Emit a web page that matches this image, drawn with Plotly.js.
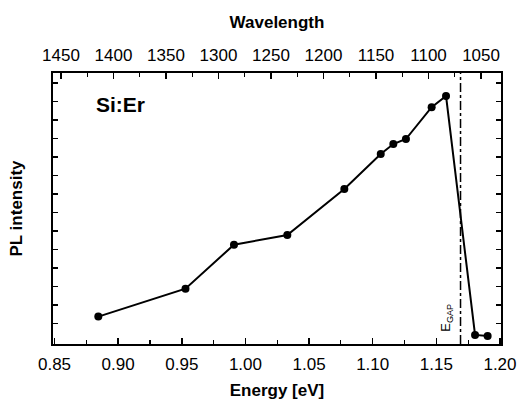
<!DOCTYPE html>
<html>
<head>
<meta charset="utf-8">
<script src="https://cdn.plot.ly/plotly-3.0.1.min.js"></script>
<style>html,body{margin:0;padding:0;background:#fff;}#chart{width:518px;height:400px;}</style>
</head>
<body>
<div id="chart"></div>
<script>
// Data
const energy = [0.8844, 0.9529, 0.9910, 1.0329, 1.0777, 1.1063, 1.1162, 1.1261, 1.1463, 1.1576, 1.1804, 1.1903];
const plIntensity = [0.36, 1.87, 4.25, 4.77, 7.26, 9.15, 9.69, 9.96, 11.68, 12.29, -0.63, -0.69];
const eGap = 1.169;
const energyTicks = [0.85, 0.90, 0.95, 1.00, 1.05, 1.10, 1.15, 1.20];
const energyTickText = ["0.85", "0.90", "0.95", "1.00", "1.05", "1.10", "1.15", "1.20"];
const wavelengthTicks = [1450, 1400, 1350, 1300, 1250, 1200, 1150, 1100, 1050];
const yTicks = [0,1,2,3,4,5,6,7,8,9,10,11,12,13];

const FONT = "Liberation Sans, Arial, Helvetica, sans-serif";

const traces = [
  {
    x: energy, y: plIntensity, type: 'scatter', mode: 'lines+markers',
    line: {color: '#000', width: 2},
    marker: {color: '#000', size: 8},
    showlegend: false, hoverinfo: 'skip'
  },
  {
    x: [1250], y: [0], xaxis: 'x2', yaxis: 'y', type: 'scatter', mode: 'markers',
    marker: {opacity: 0}, showlegend: false, hoverinfo: 'skip'
  }
];

const layout = {
  width: 518, height: 400,
  margin: {l: 53, r: 17, t: 73, b: 56},
  paper_bgcolor: '#fff', plot_bgcolor: '#fff',
  font: {family: FONT, color: '#000', size: 17},
  showlegend: false,
  xaxis: {
    range: [0.8488, 1.2008], tickvals: energyTicks, ticktext: energyTickText,
    ticks: 'inside', ticklen: 6, tickwidth: 1.5, tickcolor: '#000',
    minor: {dtick: 0.025, tick0: 0.85, ticks: 'inside', ticklen: 4, tickwidth: 1.2, tickcolor: '#000'},
    showline: true, linecolor: '#000', linewidth: 2, mirror: false,
    showgrid: false, zeroline: false,
    tickfont: {size: 17, family: FONT, color: '#000'},
    ticklabelstandoff: 4,
    title: {text: 'Energy [eV]', font: {size: 17, family: FONT, weight: 'bold', color: '#000'}, standoff: 11}
  },
  xaxis2: {
    overlaying: 'x', side: 'top', anchor: 'y',
    range: [1457.6, 1031], tickvals: wavelengthTicks,
    ticks: 'inside', ticklen: 6, tickwidth: 1.5, tickcolor: '#000',
    minor: {dtick: 25, tick0: 1050, ticks: 'inside', ticklen: 4, tickwidth: 1.2, tickcolor: '#000'},
    showline: true, linecolor: '#000', linewidth: 2,
    showgrid: false, zeroline: false,
    tickfont: {size: 17, family: FONT, color: '#000'},
    ticklabelposition: 'outside',
    ticklabelstandoff: 3,
    title: {text: 'Wavelength', font: {size: 17, family: FONT, weight: 'bold', color: '#000'}, standoff: 13}
  },
  yaxis: {
    range: [-1.12, 13.53], tickvals: yTicks, showticklabels: false,
    ticks: 'inside', ticklen: 5, tickwidth: 1.5, tickcolor: '#000',
    showline: true, linecolor: '#000', linewidth: 2, mirror: 'ticks',
    showgrid: false, zeroline: false,
    title: {text: 'PL intensity', font: {size: 17, family: FONT, weight: 'bold', color: '#000'}, standoff: 24}
  },
  shapes: [
    {type: 'line', xref: 'x', yref: 'paper', x0: eGap, x1: eGap, y0: 0, y1: 1,
     line: {color: '#000', width: 1.5, dash: 'dashdot'}}
  ],
  annotations: [
    {text: '<b>Si:Er</b>', xref: 'paper', yref: 'paper', showarrow: false,
     x: (120 - 53) / (518 - 53 - 17), y: 1 - (105 - 73) / (400 - 73 - 56),
     xanchor: 'center', yanchor: 'middle',
     font: {size: 21, family: FONT, color: '#000'}},
    {text: 'E<sub>GAP</sub>', x: 1.1584, y: 0.3, xref: 'x', yref: 'y', showarrow: false,
     textangle: -90, xanchor: 'center', yanchor: 'middle', font: {size: 13, family: FONT, color: '#000'}}
  ]
};

Plotly.newPlot('chart', traces, layout, {staticPlot: true, displayModeBar: false});
</script>
</body>
</html>
